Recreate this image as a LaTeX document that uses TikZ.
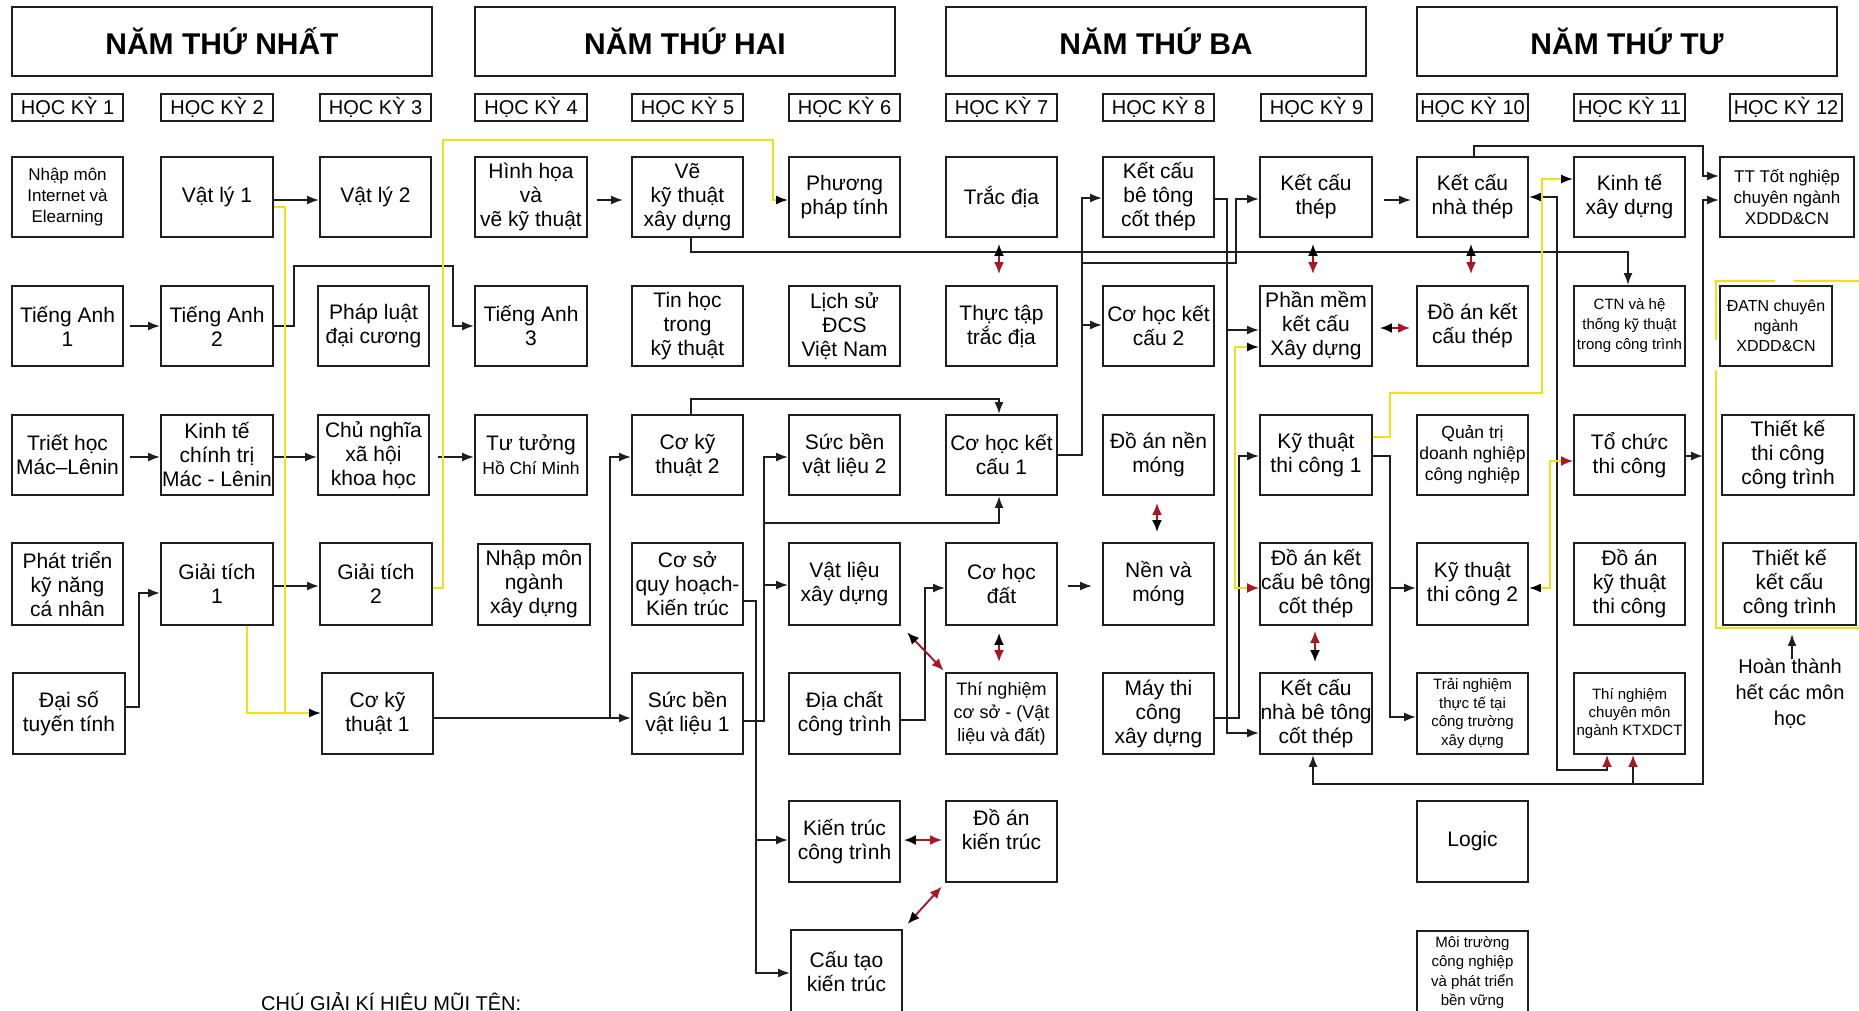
\documentclass[tikz,border=0pt]{standalone}
\usepackage{fontspec}
\setmainfont{Liberation Sans}
\usetikzlibrary{arrows.meta}
\definecolor{ylw}{RGB}{240,225,20}
\definecolor{dred}{RGB}{168,24,36}
\definecolor{lnc}{RGB}{30,30,30}
\newcommand\mybox[7][]{\node[box,minimum width={#5-#3},minimum height={#6-#4},#1] (#2) at ({(#3+#5)/2},{(#4+#6)/2}) {#7};}
\begin{document}
\begin{tikzpicture}[x=1pt,y=-1pt,
  box/.style={draw=lnc,fill=white,line width=1.9pt,align=center,inner sep=0pt,font=\fontsize{21}{24}\selectfont},
  ybox/.style={font=\fontsize{30}{34}\selectfont\bfseries},
  hk/.style={font=\fontsize{20}{22}\selectfont},
  ln/.style={draw=lnc,line width=1.9pt},
  conn/.style={ln,-{Latex[length=12pt,width=9pt]}},
  connr/.style={ln,-{Latex[length=12pt,width=10pt,color=dred]}},
  bdbl/.style={ln,{Latex[length=12pt,width=9pt,color=black]}-{Latex[length=12pt,width=10pt,color=dred]}},
  yln/.style={draw=ylw,line width=1.9pt},
  yconn/.style={yln,-{Latex[length=12pt,width=9pt,color=black]}},
  yconnr/.style={yln,-{Latex[length=12pt,width=10pt,color=dred]}},
  ydbl/.style={yln,{Latex[length=12pt,width=9pt,color=black]}-{Latex[length=12pt,width=10pt,color=dred]}},
  dbl/.style={draw=dred,line width=1.9pt,{Latex[length=12pt,width=10pt,color=black]}-{Latex[length=12pt,width=10pt,color=dred]}}
]
\path[use as bounding box,fill=white] (0,0) rectangle (1859,1011);
\clip (0,0) rectangle (1859,1011);

% ---------- year headers ----------
\mybox[ybox]{y1}{12}{7}{432}{76}{NĂM THỨ NHẤT}
\mybox[ybox]{y2}{475}{7}{895}{76}{NĂM THỨ HAI}
\mybox[ybox]{y3}{946}{7}{1366}{76}{NĂM THỨ BA}
\mybox[ybox]{y4}{1417}{7}{1837}{76}{NĂM THỨ TƯ}

% ---------- semester headers ----------
\mybox[hk]{h1}{12}{94}{123}{121}{HỌC KỲ 1}
\mybox[hk]{h2}{161}{94}{273}{121}{HỌC KỲ 2}
\mybox[hk]{h3}{320}{94}{431}{121}{HỌC KỲ 3}
\mybox[hk]{h4}{475}{94}{587}{121}{HỌC KỲ 4}
\mybox[hk]{h5}{632}{94}{743}{121}{HỌC KỲ 5}
\mybox[hk]{h6}{789}{94}{900}{121}{HỌC KỲ 6}
\mybox[hk]{h7}{946}{94}{1057}{121}{HỌC KỲ 7}
\mybox[hk]{h8}{1103}{94}{1214}{121}{HỌC KỲ 8}
\mybox[hk]{h9}{1261}{94}{1372}{121}{HỌC KỲ 9}
\mybox[hk]{h10}{1417}{94}{1528}{121}{HỌC KỲ 10}
\mybox[hk]{h11}{1574}{94}{1685}{121}{\raisebox{-2pt}{HỌC KỲ 11}}
\mybox[hk]{h12}{1730}{94}{1842}{121}{HỌC KỲ 12}

% ---------- column 1 ----------
\mybox[font=\fontsize{17}{21}\selectfont]{c1r1}{12}{157}{123}{237}{Nhập môn\\Internet và\\Elearning}
\mybox{c1r2}{12}{286}{123}{366}{Tiếng Anh\\1}
\mybox{c1r3}{12}{415}{123}{495}{Triết học\\Mác–Lênin}
\mybox{c1r4}{12}{543}{123}{625}{Phát triển\\kỹ năng\\cá nhân}
\mybox{c1r5}{13}{673}{125}{754}{Đại số\\tuyến tính}
% ---------- column 2 ----------
\mybox{c2r1}{161}{157}{273}{237}{Vật lý 1}
\mybox{c2r2}{161}{286}{273}{366}{Tiếng Anh\\2}
\mybox{c2r3}{161}{415}{273}{495}{Kinh tế\\chính trị\\Mác - Lênin}
\mybox{c2r4}{161}{543}{273}{625}{Giải tích\\1}
% ---------- column 3 ----------
\mybox{c3r1}{320}{157}{431}{237}{Vật lý 2}
\mybox{c3r2}{318}{286}{429}{366}{Pháp luật\\đại cương}
\mybox{c3r3}{318}{415}{429}{495}{Chủ nghĩa\\xã hội\\khoa học}
\mybox{c3r4}{320}{543}{432}{625}{Giải tích\\2}
\mybox{c3r5}{322}{673}{433}{754}{Cơ kỹ\\thuật 1}
% ---------- column 4 ----------
\mybox{c4r1}{475}{157}{587}{237}{Hình họa\\và\\vẽ kỹ thuật}
\mybox{c4r2}{475}{286}{587}{366}{Tiếng Anh\\3}
\mybox{c4r3}{475}{415}{587}{495}{Tư tưởng\\{\fontsize{17.5}{21}\selectfont Hồ Chí Minh}}
\mybox{c4r4}{478}{544}{590}{625}{Nhập môn\\ngành\\xây dựng}
% ---------- column 5 ----------
\mybox{c5r1}{632}{157}{743}{237}{Vẽ\\kỹ thuật\\xây dựng}
\mybox{c5r2}{632}{286}{743}{366}{Tin học\\trong\\kỹ thuật}
\mybox{c5r3}{632}{415}{743}{495}{Cơ kỹ\\thuật 2}
\mybox{c5r4}{632}{543}{743}{625}{Cơ sở\\quy hoạch-\\Kiến trúc}
\mybox{c5r5}{632}{673}{743}{754}{Sức bền\\vật liệu 1}
% ---------- column 6 ----------
\mybox{c6r1}{789}{157}{900}{237}{Phương\\pháp tính}
\mybox{c6r2}{789}{286}{900}{366}{Lịch sử\\ĐCS\\Việt Nam}
\mybox{c6r3}{789}{415}{900}{495}{Sức bền\\vật liệu 2}
\mybox{c6r4}{789}{543}{900}{625}{Vật liệu\\xây dựng}
\mybox{c6r5}{789}{673}{900}{754}{Địa chất\\công trình}
\mybox{c6r6}{789}{801}{900}{882}{Kiến trúc\\công trình}
\mybox{c6r7}{791}{930}{902}{1014}{Cấu tạo\\kiến trúc}
% ---------- column 7 ----------
\mybox{c7r1}{946}{157}{1057}{237}{Trắc địa}
\mybox{c7r2}{946}{286}{1057}{366}{Thực tập\\trắc địa}
\mybox{c7r3}{946}{415}{1057}{495}{Cơ học kết\\cấu 1}
\mybox{c7r4}{946}{543}{1057}{625}{Cơ học\\đất}
\mybox[font=\fontsize{18}{23}\selectfont]{c7r5}{946}{673}{1057}{754}{Thí nghiệm\\cơ sở - (Vật\\liệu và đất)}
\mybox{c7r6}{946}{801}{1057}{882}{Đồ án\\kiến trúc\\~}
% ---------- column 8 ----------
\mybox{c8r1}{1103}{157}{1214}{237}{Kết cấu\\bê tông\\cốt thép}
\mybox{c8r2}{1103}{286}{1214}{366}{Cơ học kết\\cấu 2}
\mybox{c8r3}{1103}{415}{1214}{495}{Đồ án nền\\móng}
\mybox{c8r4}{1103}{543}{1214}{625}{Nền và\\móng}
\mybox{c8r5}{1103}{673}{1214}{754}{Máy thi\\công\\xây dựng}
% ---------- column 9 ----------
\mybox{c9r1}{1260}{157}{1372}{237}{Kết cấu\\thép}
\mybox{c9r2}{1260}{286}{1372}{366}{Phần mềm\\kết cấu\\Xây dựng}
\mybox{c9r3}{1260}{415}{1372}{495}{Kỹ thuật\\thi công 1}
\mybox{c9r4}{1260}{543}{1372}{625}{Đồ án kết\\cấu bê tông\\cốt thép}
\mybox{c9r5}{1260}{673}{1372}{754}{Kết cấu\\nhà bê tông\\cốt thép}
% ---------- column 10 ----------
\mybox{c10r1}{1417}{157}{1528}{237}{Kết cấu\\nhà thép}
\mybox{c10r2}{1417}{286}{1528}{366}{Đồ án kết\\cấu thép}
\mybox[font=\fontsize{17.5}{21}\selectfont]{c10r3}{1417}{415}{1528}{495}{Quản trị\\doanh nghiệp\\công nghiệp}
\mybox{c10r4}{1417}{543}{1528}{625}{Kỹ thuật\\thi công 2}
\mybox[font=\fontsize{15}{18.5}\selectfont]{c10r5}{1417}{673}{1528}{754}{Trải nghiệm\\thực tế tại\\công trường\\xây dựng}
\mybox{c10r6}{1417}{801}{1528}{882}{Logic}
\mybox[font=\fontsize{15}{19.5}\selectfont]{c10r7}{1417}{931}{1528}{1014}{Môi trường\\công nghiệp\\và phát triển\\bền vững}
% ---------- column 11 ----------
\mybox{c11r1}{1574}{157}{1685}{237}{Kinh tế\\xây dựng}
\mybox[font=\fontsize{15}{20}\selectfont]{c11r2}{1574}{286}{1685}{366}{CTN và hệ\\thống kỹ thuật\\trong công trình}
\mybox{c11r3}{1574}{415}{1685}{495}{Tổ chức\\thi công}
\mybox{c11r4}{1574}{543}{1685}{625}{Đồ án\\kỹ thuật\\thi công}
\mybox[font=\fontsize{15}{18}\selectfont]{c11r5}{1574}{673}{1685}{754}{Thí nghiệm\\chuyên môn\\ngành KTXDCT}
% ---------- column 12 ----------
\mybox[font=\fontsize{17}{21}\selectfont]{c12r1}{1720}{157}{1854}{237}{TT Tốt nghiệp\\chuyên ngành\\XDDD\&CN}
\mybox[font=\fontsize{16}{20}\selectfont]{c12r2}{1720}{286}{1832}{366}{ĐATN chuyên\\ngành\\XDDD\&CN}
\mybox{c12r3}{1722}{415}{1854}{495}{Thiết kế\\thi công\\công trình}
\mybox{c12r4}{1723}{543}{1856}{625}{Thiết kế\\kết cấu\\công trình}

\node[font=\fontsize{20}{26}\selectfont,align=center,inner sep=0pt] (done) at (1790,694) {Hoàn thành\\hết các môn\\học};
\node[font=\fontsize{20}{22}\selectfont,anchor=base west,inner sep=0pt] (legend) at (261,1010) {CHÚ GIẢI KÍ HIỆU MŨI TÊN:};

% ---------- yellow bracket ----------
\draw[yln] (1775,281) -- (1716,281) -- (1716,340);
\draw[yln] (1794,281) -- (1859,281);
\draw[yln] (1716,370) -- (1716,628) -- (1859,628);

% ---------- black connectors ----------
\draw[conn] (c2r1.east |- 0,200) -- (c3r1.west |- 0,200);
\draw[conn,shorten <=6pt] (c1r2.east) -- (c2r2.west);
\draw[conn] (c2r2.east) -- (294,326) -- (294,266) -- (453,266) -- (453,326) -- (c4r2.west);
\draw[conn,shorten <=6pt] (c1r3.east |- 0,457) -- (c2r3.west |- 0,457);
\draw[conn] (c2r3.east |- 0,457) -- (c3r3.west |- 0,457);
\draw[conn,shorten <=8pt] (c3r3.east |- 0,457) -- (c4r3.west |- 0,457);
\draw[conn] (c1r5.east |- 0,707) -- (139,707) -- (139,593) -- (c2r4.west |- 0,593);
\draw[conn] (c2r4.east |- 0,586) -- (c3r4.west |- 0,586);
\draw[conn,shorten <=9pt,shorten >=8pt] (c4r1.east |- 0,200) -- (c5r1.west |- 0,200);
\draw[conn] (c5r1.south -| 691,0) -- (691,252) -- (1628,252) -- (c11r2.north -| 1628,0);
\draw[conn] (c3r5.east |- 0,718) -- (c5r5.west |- 0,718);
\coordinate (j1) at (610,718);
\draw[conn] (j1) -- (610,457) -- (c5r3.west |- 0,457);
\draw[conn] (c5r3.north -| 691,0) -- (691,399) -- (999,399) -- (c7r3.north -| 999,0);
\draw[conn] (c5r5.east |- 0,721) -- (764,721) -- (764,457) -- (c6r3.west |- 0,457);
\coordinate (j2) at (764,585);
\draw[conn] (j2) -- (c6r4.west |- 0,585);
\coordinate (j3) at (764,523);
\draw[conn] (j3) -- (999,523) -- (c7r3.south -| 999,0);
\draw[conn] (c5r4.east |- 0,601) -- (756,601) -- (756,840) -- (c6r6.west |- 0,840);
\coordinate (j4) at (756,840);
\draw[conn] (j4) -- (756,973) -- (c6r7.west |- 0,973);
\draw[conn] (c6r5.east |- 0,720) -- (925,720) -- (925,588) -- (c7r4.west |- 0,588);
\draw[conn,shorten <=10pt,shorten >=10pt] (c7r4.east |- 0,586) -- (c8r4.west |- 0,586);
\draw[conn] (c7r3.east) -- (1082,455) -- (1082,198) -- (c8r1.west |- 0,198);
\coordinate (j5) at (1082,325);
\draw[conn] (j5) -- (c8r2.west |- 0,325);
\coordinate (j6) at (1082,263);
\draw[conn] (j6) -- (1236,263) -- (1236,199) -- (c9r1.west |- 0,199);
\draw[conn] (c8r1.east |- 0,199) -- (1227,199) -- (1227,733) -- (c9r5.west |- 0,733);
\coordinate (j7) at (1227,330);
\draw[conn] (j7) -- (c9r2.west |- 0,330);
\draw[conn] (c8r5.east |- 0,718) -- (1239,718) -- (1239,456) -- (c9r3.west |- 0,456);
\draw[conn,shorten <=11pt,shorten >=5pt] (c9r1.east |- 0,200) -- (c10r1.west |- 0,200);
\draw[conn] (c10r1.north -| 1474,0) -- (1474,146) -- (1703,146) -- (1703,176) -- (c12r1.west |- 0,176);
\coordinate (j8) at (1703,456);
\draw[conn] (c11r3.east |- 0,456) -- (j8);
\draw[conn] (j8) -- (1703,200) -- (c12r1.west |- 0,200);
\draw[conn] (j8) -- (1703,784) -- (1313,784) -- (c9r5.south -| 1313,0);
\coordinate (j9) at (1633,784);
\draw[connr] (j9) -- (c11r5.south -| 1633,0);
\draw[bdbl] (c10r1.east |- 0,197) -- (1557,197) -- (1557,770) -- (1607,770) -- (c11r5.south -| 1607,0);
\draw[conn] (c9r3.east |- 0,456) -- (1390,456) -- (1390,588) -- (c10r4.west |- 0,588);
\coordinate (j10) at (1390,588);
\draw[conn] (j10) -- (1390,717) -- (c10r5.west |- 0,717);
\draw[conn,shorten >=8pt] (done.north -| 1792,0) -- (c12r4.south -| 1792,0);

% ---------- yellow connectors ----------
\draw[yconn] (c2r1.east |- 0,207) -- (285,207) -- (285,713) -- (c3r5.west |- 0,713);
\draw[yln] (c2r4.south -| 247,0) -- (247,713) -- (285,713);
\draw[yconn] (c3r4.east |- 0,588) -- (443,588) -- (443,140) -- (773,140) -- (773,200) -- (c6r1.west |- 0,200);
\coordinate (yj) at (1235,347);
\draw[yconn] (yj) -- (c9r2.west |- 0,347);
\draw[yconnr] (yj) -- (1235,588) -- (c9r4.west |- 0,588);
\draw[yconn] (c9r3.east |- 0,437) -- (1390,437) -- (1390,393) -- (1542,393) -- (1542,179) -- (c11r1.west |- 0,179);
\draw[ydbl] (c10r4.east |- 0,588) -- (1550,588) -- (1550,461) -- (c11r3.west |- 0,461);

% ---------- red double arrows ----------
\draw[dbl,shorten <=6pt,shorten >=11pt] (c7r1.south -| 999,0) -- (c7r2.north -| 999,0);
\draw[dbl,shorten <=6pt,shorten >=11pt] (c9r1.south -| 1313,0) -- (c9r2.north -| 1313,0);
\draw[dbl,shorten <=6pt,shorten >=11pt] (c10r1.south -| 1471,0) -- (c10r2.north -| 1471,0);
\draw[dbl,shorten <=7pt,shorten >=6pt] (c9r2.east |- 0,328) -- (c10r2.west |- 0,328);
\draw[dbl,shorten <=10pt,shorten >=7pt] (c8r4.north -| 1157,0) -- (c8r3.south -| 1157,0);
\draw[dbl,shorten <=7pt,shorten >=10pt] (c7r4.south -| 999,0) -- (c7r5.north -| 999,0);
\draw[dbl,shorten <=10pt,shorten >=5pt] (c9r5.north -| 1315,0) -- (c9r4.south -| 1315,0);
\draw[dbl,shorten <=9pt,shorten >=2pt] (c6r4.south east) -- (c7r5.north west);
\draw[dbl,shorten <=3pt,shorten >=3pt] (c6r6.east |- 0,840) -- (c7r6.west |- 0,840);
\draw[dbl,shorten <=7pt,shorten >=5pt] (c6r7.north east) -- (c7r6.south west);
\end{tikzpicture}
\end{document}
